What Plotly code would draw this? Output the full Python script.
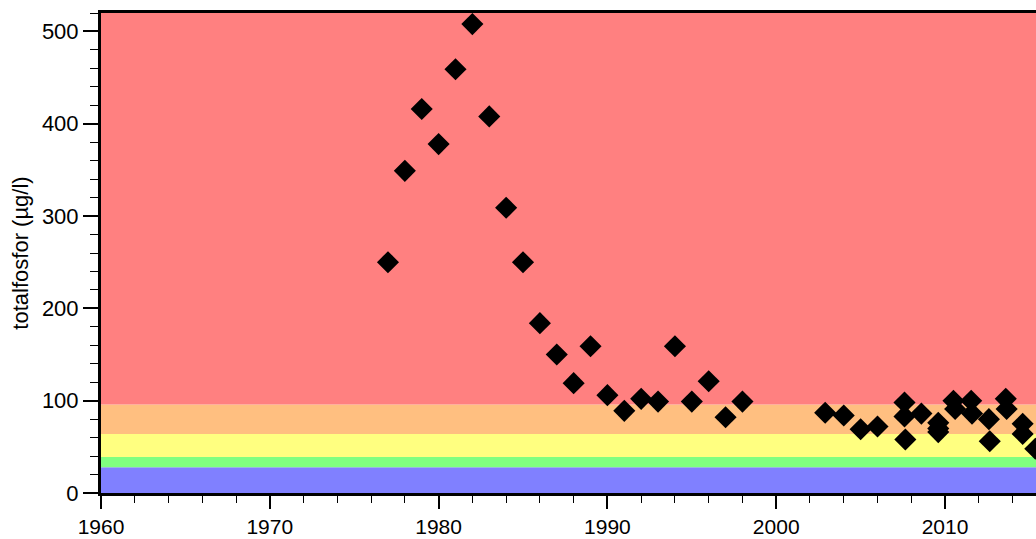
import plotly.graph_objects as go

years = [1977, 1978, 1979, 1980, 1981, 1982, 1983, 1984, 1985, 1986, 1987, 1988,
         1989, 1990, 1991, 1992, 1993, 1994, 1995, 1996, 1997, 1998,
         2002.9, 2004.0, 2005.0, 2006.0,
         2007.6, 2007.6, 2007.65, 2008.6, 2009.6, 2009.6, 2009.6,
         2010.5, 2010.6, 2011.55, 2011.6, 2012.6, 2012.65, 2013.6, 2013.65,
         2014.6, 2014.6, 2015.35]
values = [250, 349, 416, 378, 459, 508, 408, 309, 250, 184, 150, 119,
          159, 106, 89, 102, 99, 159, 99, 121, 82, 99,
          87, 84, 69, 72,
          98, 83, 58, 86, 76, 70, 66,
          100, 91, 100, 86, 80, 56, 102, 91,
          75, 64, 48]

class_limits = [0, 28, 39, 64, 96, 520]
class_colors = ["#8080FF", "#80FF80", "#FFFF80", "#FFBF80", "#FF8080"]

x_range = [1960, 2015.39]
y_range = [0, 520]
font = "Liberation Sans, Arial, sans-serif"

fig = go.Figure()
fig.add_trace(go.Scatter(
    x=years, y=values, mode="markers",
    marker=dict(symbol="diamond", size=17, color="black", line=dict(width=0)),
    showlegend=False, hoverinfo="x+y",
))

for lo, hi, col in zip(class_limits[:-1], class_limits[1:], class_colors):
    fig.add_shape(type="rect", xref="paper", yref="y", x0=0, x1=1, y0=lo, y1=hi,
                  fillcolor=col, line=dict(width=0), layer="below")

fig.update_layout(
    width=1036, height=539,
    margin=dict(l=101, r=0, t=13, b=46, autoexpand=False),
    paper_bgcolor="white", plot_bgcolor="white",
    font=dict(family=font, size=22, color="black"),
)
fig.update_xaxes(
    range=x_range, dtick=10, tick0=1960, ticks="outside", ticklen=13, tickwidth=1.5,
    tickcolor="black", showline=True, linecolor="black", linewidth=2.5, mirror=True,
    showgrid=False, zeroline=False, tickfont=dict(size=21),
    minor=dict(dtick=2, ticks="outside", ticklen=7, tickcolor="black", tickwidth=1, showgrid=False),
)
fig.update_yaxes(
    range=y_range, dtick=100, tick0=0, ticks="outside", ticklen=15, tickwidth=1.5,
    tickcolor="black", showline=True, linecolor="black", linewidth=3, mirror=False,
    showgrid=False, zeroline=False, tickfont=dict(size=22),
    title=dict(text="totalfosfor (µg/l)", font=dict(size=22), standoff=8),
    minor=dict(dtick=20, ticks="outside", ticklen=8, tickcolor="black", tickwidth=1, showgrid=False),
)

fig.write_html("out.html", config={"displayModeBar": False},
               post_script="document.body.style.margin='0px';")
